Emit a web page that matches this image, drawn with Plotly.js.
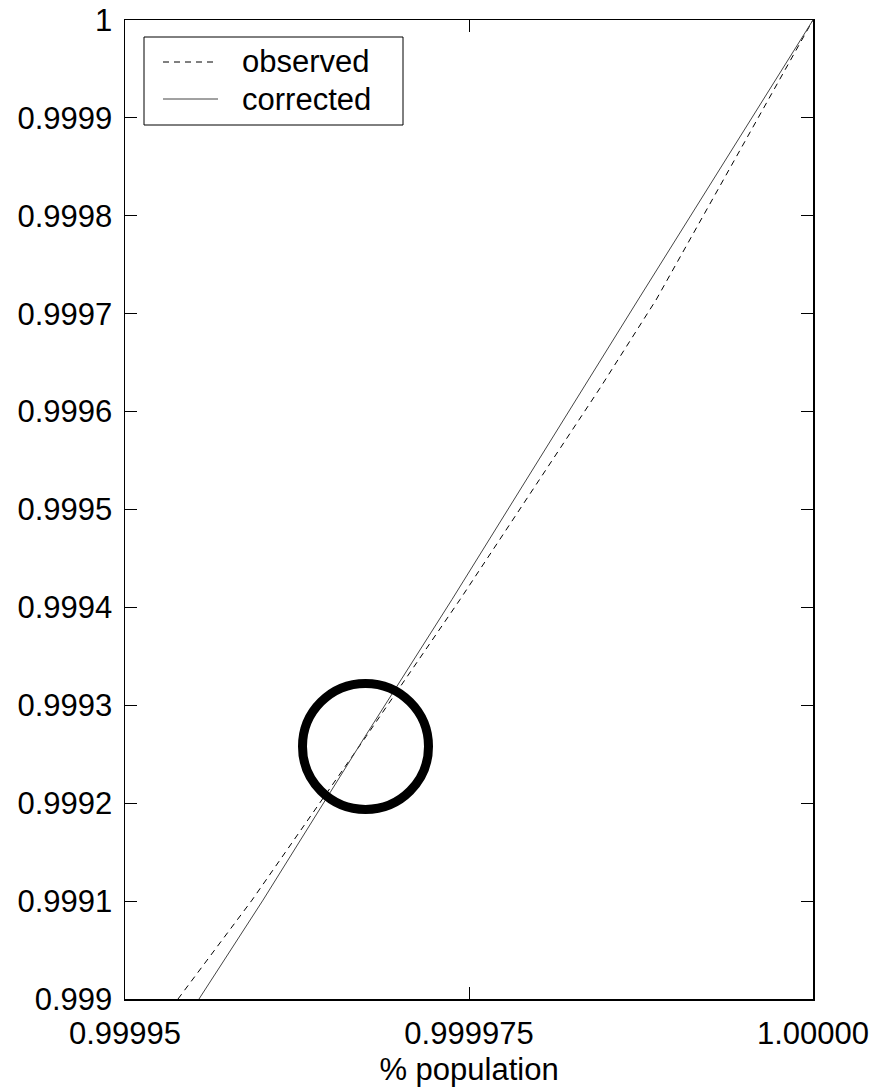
<!DOCTYPE html>
<html>
<head>
<meta charset="utf-8">
<script src="https://cdn.plot.ly/plotly-3.0.1.min.js"></script>
<style>
  html, body { margin: 0; padding: 0; background: #fff; }
  #chart { width: 875px; height: 1089px; }
</style>
</head>
<body>
<div id="chart"></div>
<script>
// Observed curve (dashed) and corrected curve (solid)
const observedX = [0.999953852, 0.99995923, 0.999967514, 0.999974346, 0.99998452, 0.99998859, 1.0];
const observedY = [0.999, 0.999101, 0.999268, 0.999408, 0.999624, 0.999714, 1.0];
const correctedX = [0.999955378, 0.99996003, 0.99996744, 0.99997376, 0.99998728, 1.0];
const correctedY = [0.999, 0.999101, 0.999268, 0.999408, 0.999714, 1.0];

// Highlighted crossing point
const highlightX = [0.999967478];
const highlightY = [0.999258];

// Axis ticks
const xTickVals = [0.99995, 0.999975, 1.0];
const xTickText = ['0.99995', '0.999975', '1.00000'];
const yTickVals = [0.999, 0.9991, 0.9992, 0.9993, 0.9994, 0.9995, 0.9996, 0.9997, 0.9998, 0.9999, 1.0];
const yTickText = ['0.999', '0.9991', '0.9992', '0.9993', '0.9994', '0.9995', '0.9996', '0.9997', '0.9998', '0.9999', '1'];

const legendNames = ['observed', 'corrected'];

const FONT = 'Liberation Sans, Arial, Helvetica, sans-serif';
const FS = 31;

const traces = [
  {
    x: observedX, y: observedY, type: 'scatter', mode: 'lines', name: legendNames[0],
    line: { color: '#000', width: 1, dash: '6px,5px' }, showlegend: false
  },
  {
    x: correctedX, y: correctedY, type: 'scatter', mode: 'lines', name: legendNames[1],
    line: { color: '#444', width: 1 }, showlegend: false
  },
  {
    x: highlightX, y: highlightY, type: 'scatter', mode: 'markers', showlegend: false,
    marker: { symbol: 'circle-open', size: 126, color: '#000', line: { color: '#000', width: 9 } }
  }
];

// Plot area in pixels: x 125..813, y 20..999
const L = 125, R = 813, T = 20, B = 999;
const px = v => (v - L) / (R - L);
const py = v => (B - v) / (B - T);

const layout = {
  width: 875, height: 1089,
  margin: { l: L, r: 875 - R, t: T, b: 1089 - B, pad: 0 },
  paper_bgcolor: '#fff', plot_bgcolor: '#fff',
  font: { family: FONT, size: FS, color: '#000' },
  showlegend: false,
  xaxis: {
    range: [0.99995, 1.0], tickmode: 'array', tickvals: xTickVals, ticktext: xTickText,
    ticks: 'inside', ticklen: 12, tickwidth: 1, tickcolor: '#000',
    showline: true, linecolor: '#000', linewidth: 1.5, mirror: 'ticks',
    showgrid: false, zeroline: false, automargin: false,
    tickfont: { family: FONT, size: FS, color: '#000' }, ticklabelstandoff: 6,
    title: { text: '% population', font: { family: FONT, size: FS, color: '#000' }, standoff: 8 }
  },
  yaxis: {
    range: [0.999, 1.0], tickmode: 'array', tickvals: yTickVals, ticktext: yTickText,
    ticks: 'inside', ticklen: 12, tickwidth: 1, tickcolor: '#000',
    showline: true, linecolor: '#000', linewidth: 1.5, mirror: 'ticks',
    showgrid: false, zeroline: false, automargin: false,
    tickfont: { family: FONT, size: FS, color: '#000' }, ticklabelstandoff: 5
  },
  shapes: [
    { type: 'rect', xref: 'paper', yref: 'paper', x0: px(144), x1: px(403), y0: py(125), y1: py(37),
      line: { color: '#000', width: 1 }, fillcolor: '#fff', layer: 'above' },
    { type: 'line', xref: 'paper', yref: 'paper', x0: px(163), x1: px(218), y0: py(62), y1: py(62),
      line: { color: '#000', width: 1, dash: '6px,5px' }, layer: 'above' },
    { type: 'line', xref: 'paper', yref: 'paper', x0: px(163), x1: px(218), y0: py(99), y1: py(99),
      line: { color: '#444', width: 1 }, layer: 'above' }
  ],
  annotations: [
    { xref: 'paper', yref: 'paper', x: px(240), y: py(61), xanchor: 'left', yanchor: 'middle',
      text: legendNames[0], showarrow: false, font: { family: FONT, size: FS, color: '#000' } },
    { xref: 'paper', yref: 'paper', x: px(240), y: py(99), xanchor: 'left', yanchor: 'middle',
      text: legendNames[1], showarrow: false, font: { family: FONT, size: FS, color: '#000' } }
  ]
};

Plotly.newPlot('chart', traces, layout, { staticPlot: true, displayModeBar: false });
</script>
</body>
</html>
